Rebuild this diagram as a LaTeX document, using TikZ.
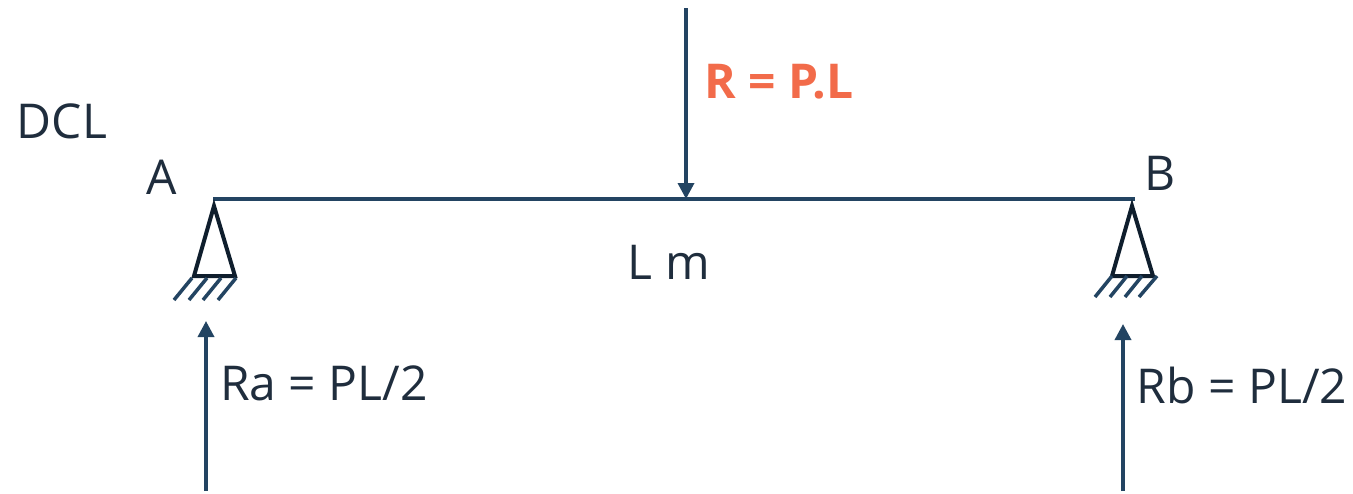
\documentclass[tikz,border=0pt]{standalone}
\usepackage{fontspec}
\setmainfont{Open Sans}
\usetikzlibrary{arrows.meta}
\definecolor{beamblue}{HTML}{234462}
\definecolor{supportdark}{HTML}{0F1E2D}
\definecolor{textdark}{HTML}{1F2D3D}
\definecolor{loadorange}{HTML}{F26B4A}
\tikzset{
    beam/.style={draw=beamblue,line width=2pt},
    force/.style={draw=beamblue,line width=1.75pt,-{Triangle[length=8pt,width=8pt]}},
    support/.style={draw=supportdark,line width=2pt,miter limit=10},
    hatch/.style={draw=beamblue,line width=1.75pt},
    label/.style={text=textdark,font=\fontsize{24}{28}\selectfont,inner sep=0pt},
}

\begin{document}
\begin{tikzpicture}[x=0.5pt,y=-0.5pt]
        \useasboundingbox (0,0) rectangle (1353,493);

        \coordinate (beamA) at (213,199);
        \coordinate (beamB) at (1135,199);
        \coordinate (beamC) at (686,199);
        \coordinate (loadTop) at (686,8);
        \coordinate (raBottom) at (206,491);
        \coordinate (raTop) at (206,321);
        \coordinate (rbBottom) at (1123,491);
        \coordinate (rbTop) at (1123,324);

        \draw[beam] (beamA) -- (beamB);
        \draw[force] (loadTop) -- (beamC);
        \draw[force] (raBottom) -- (raTop);
        \draw[force] (rbBottom) -- (rbTop);

        \draw[support] (214,206) -- (235,276) -- (194,276) -- cycle;
        \draw[hatch] (192,278) -- (174,300);
        \draw[hatch] (207,278) -- (189,300);
        \draw[hatch] (221,278) -- (203,300);
        \draw[hatch] (236,278) -- (218,300);

        \draw[support] (1132,206) -- (1153,276) -- (1112,276) -- cycle;
        \draw[hatch] (1112,276) -- (1095,297);
        \draw[hatch] (1127,276) -- (1110,297);
        \draw[hatch] (1142,276) -- (1125,297);
        \draw[hatch] (1157,276) -- (1139,297);

        \node[label] (dcl) at (62,121) {DCL};
        \node[label] (labelA) at (162,177) {A};
        \node[label] (labelB) at (1160,173) {B};
        \node[label] (span) at (669,262) {L m};
        \node[label,text=loadorange,font=\fontsize{24}{28}\selectfont\bfseries] (load) at (779,82) {R = P.L};
        \node[label] (ra) at (324,383) {Ra = PL/2};
        \node[label] (rb) at (1242,385) {Rb = PL/2};
    \end{tikzpicture}
\end{document}
